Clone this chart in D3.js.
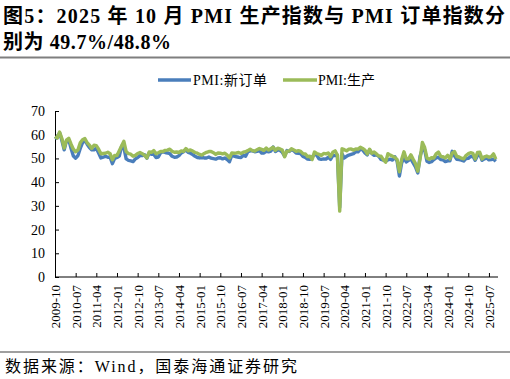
<!DOCTYPE html>
<html><head><meta charset="utf-8">
<script src="https://cdn.jsdelivr.net/npm/d3@7"></script>
<style>
body{margin:0;background:#fff;}
svg{display:block;}
</style></head>
<body>
<svg id="c" width="510" height="379"></svg>
<script>
// ---- data ----
const startMonth = "2009-10";
const production = [
 59.2,58.6,61.1,
 58.4,54.4,57.7,58.5,56.0,53.9,52.8,53.6,56.6,57.9,58.4,56.6,
 55.6,54.2,55.6,55.4,53.9,52.0,52.1,52.2,52.6,52.0,49.4,51.3,
 51.2,53.2,55.2,57.2,52.9,52.0,51.8,50.9,51.3,52.1,52.5,52.0,
 51.3,50.2,52.7,52.6,53.3,52.0,52.4,52.9,52.9,53.4,53.5,53.9,
 53.0,52.6,52.7,52.5,53.2,53.0,54.2,53.2,53.6,53.1,52.5,52.2,
 51.7,51.4,52.1,52.6,52.9,52.9,52.4,51.7,52.3,52.2,51.9,52.2,
 51.4,50.2,52.3,52.2,52.3,52.5,52.1,52.6,52.8,53.3,53.9,53.3,
 53.1,53.7,54.2,53.8,53.4,54.4,53.5,54.1,54.7,53.4,54.3,54.0,
 53.5,50.7,53.1,53.1,54.1,53.6,53.0,53.3,53.0,52.0,51.9,50.8,
 50.9,49.5,52.7,52.1,51.7,51.3,52.1,51.9,52.3,50.8,52.6,53.2,
 51.3,27.8,54.1,53.7,53.2,53.9,54.0,53.5,54.0,53.9,54.7,54.2,
 53.5,51.9,53.9,52.2,52.7,51.9,51.0,50.9,49.5,48.4,52.0,51.4,
 50.9,50.4,49.5,44.4,49.7,52.8,49.8,49.8,51.5,49.6,47.8,44.6,
 49.8,56.7,54.6,50.2,49.6,50.3,50.2,51.9,52.7,50.9,50.7,50.2,
 51.3,49.8,52.2,52.9,50.8,50.6,50.1,49.8,51.2,52.0,52.4,52.1,
 49.8,52.5,52.6,49.8,50.7,51.0,50.5,50.8,51.9,49.7
];
const newOrders = [
 58.2,58.9,60.8,
 57.5,53.6,57.4,57.8,54.2,51.0,50.1,51.2,54.2,56.7,57.5,56.0,
 54.6,53.6,53.6,54.3,52.3,50.2,50.5,50.9,50.5,50.5,47.8,50.0,
 50.4,51.0,55.1,54.5,49.8,49.2,49.0,48.7,49.8,50.4,51.2,51.2,
 51.6,50.1,52.3,51.7,51.8,50.4,50.6,52.4,52.8,52.5,52.3,52.0,
 50.9,50.5,50.6,51.2,52.3,52.8,53.6,52.5,52.2,51.6,50.9,50.4,
 50.2,50.4,50.2,50.2,50.6,50.1,49.9,49.7,50.2,50.3,49.8,50.2,
 49.5,48.6,51.4,51.0,50.7,50.5,50.4,51.3,50.9,52.8,53.2,53.2,
 52.8,53.0,53.3,52.3,52.3,53.1,52.8,53.1,54.8,52.9,53.6,53.4,
 52.6,51.0,53.3,52.9,53.8,53.2,52.3,52.2,52.0,50.8,50.4,49.7,
 49.6,50.6,51.6,51.4,49.8,49.6,49.8,49.7,50.5,49.6,51.3,51.2,
 51.4,29.3,52.0,50.2,50.9,51.4,51.7,52.0,52.8,52.8,53.9,53.6,
 52.3,51.5,53.6,52.0,51.3,51.5,50.9,49.6,49.3,48.8,49.4,49.7,
 49.3,50.7,48.8,42.6,48.2,50.4,48.5,49.2,49.8,48.1,46.4,43.9,
 50.9,54.1,53.6,48.8,48.3,48.6,49.5,50.2,50.5,49.5,49.4,48.7,
 49.0,49.0,53.0,51.1,49.6,49.5,49.3,48.9,49.9,50.0,50.8,51.0,
 49.2,51.1,51.8,49.2,49.8,50.2,49.4,49.5,49.7,48.8
];
const yTicks = [0,10,20,30,40,50,60,70];
const xTickLabels = ["2009-10","2010-07","2011-04","2012-01","2012-10","2013-07","2014-04","2015-01","2015-10","2016-07","2017-04","2018-01","2018-10","2019-07","2020-04","2021-01","2021-10","2022-07","2023-04","2024-01","2024-10","2025-07"];
const seriesNames = ["PMI:新订单","PMI:生产"];
const titleLines = ["图5：2025 年 10 月 PMI 生产指数与 PMI 订单指数分","别为 49.7%/48.8%"];
const sourceText = "数据来源：Wind，国泰海通证券研究";

// categories (months)
const fmt = d3.timeFormat("%Y-%m");
const start = d3.timeParse("%Y-%m")(startMonth);
const months = production.map((_, i) => fmt(d3.timeMonth.offset(start, i)));

const svg = d3.select("#c");
const serif = "'Liberation Serif','Times New Roman','Noto Sans CJK SC',serif";
const cjk = "'Liberation Serif','Noto Sans CJK SC',serif";

// title
const titleLen = [502, 168];
svg.selectAll("text.title").data(titleLines).join("text")
  .attr("class","title")
  .attr("x", 3).attr("y", (d,i)=> 23 + i*26)
  .attr("font-family", cjk).attr("font-weight", "bold").attr("font-size", 20)
  .attr("textLength", (d,i)=>titleLen[i]).attr("lengthAdjust","spacing")
  .attr("fill", "#000").text(d=>d);
svg.append("line").attr("x1",0).attr("x2",510).attr("y1",57.5).attr("y2",57.5)
  .attr("stroke","#7f7f7f").attr("stroke-width",2);

// scales
const x = d3.scalePoint().domain(months).range([55, 55 + 2.296*(months.length-1)]);
const y = d3.scaleLinear().domain([0,70]).range([277, 111]);

// y axis
const yAxis = d3.axisLeft(y).tickValues(yTicks).tickSize(-4).tickPadding(10).tickSizeOuter(0);
const gy = svg.append("g").attr("transform","translate(55,0)").call(yAxis);
gy.select(".domain").attr("stroke","#000");
gy.selectAll(".tick line").attr("stroke","#000");
gy.selectAll(".tick text").attr("font-family",serif).attr("font-size",14).attr("fill","#000");

// x axis
const xAxis = d3.axisBottom(x).tickValues(xTickLabels).tickSize(-4).tickSizeOuter(0);
const gx = svg.append("g").attr("transform","translate(0,277)").call(xAxis);
gx.select(".domain").attr("d","M55,0H498").attr("stroke","#000");
gx.selectAll(".tick line").attr("stroke","#000");
gx.selectAll(".tick text")
  .attr("font-family",serif).attr("font-size",13).attr("fill","#000")
  .attr("text-anchor","end").attr("dy","0.35em")
  .attr("transform","translate(0,8) rotate(-90)").attr("x",0).attr("y",0);

// lines
const colors = ["#4a7ebb","#9bbb59"];
const series = [newOrders, production];
const line = d3.line().x((d,i)=>x(months[i])).y(d=>y(d));
series.forEach((s,k)=>{
  svg.append("path").datum(s).attr("d", line)
    .attr("fill","none").attr("stroke",colors[k]).attr("stroke-width",3.4)
    .attr("stroke-linejoin","round");
});

// legend
const lg = [{x1:158,x2:191,tx:193,len:74},{x1:283,x2:317,tx:318,len:57}];
lg.forEach((p,k)=>{
  svg.append("line").attr("x1",p.x1).attr("x2",p.x2).attr("y1",80).attr("y2",80)
    .attr("stroke",colors[k]).attr("stroke-width",3.4);
  svg.append("text").attr("x",p.tx).attr("y",85).attr("font-family",cjk)
    .attr("font-size",14).attr("textLength",p.len).attr("lengthAdjust","spacing")
    .attr("fill","#000").text(seriesNames[k]);
});

// source
svg.append("line").attr("x1",0).attr("x2",510).attr("y1",352).attr("y2",352)
  .attr("stroke","#7f7f7f").attr("stroke-width",1.5);
svg.append("text").attr("x",5).attr("y",372).attr("font-family",cjk)
  .attr("font-size",16).attr("textLength",292).attr("lengthAdjust","spacing")
  .attr("fill","#000").text(sourceText);
</script>
</body></html>
